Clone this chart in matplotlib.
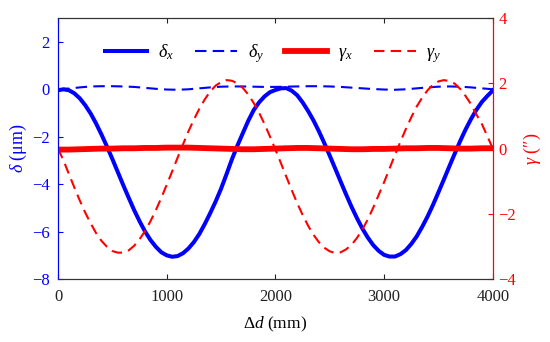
import matplotlib
matplotlib.use("Agg")
import matplotlib.pyplot as plt

plt.rcParams['font.family'] = ['Liberation Serif', 'DejaVu Serif']
plt.rcParams['mathtext.fontset'] = 'custom'
plt.rcParams['mathtext.rm'] = 'Liberation Serif'
plt.rcParams['mathtext.it'] = 'Liberation Serif:italic'
plt.rcParams['font.size'] = 12

# positions along the guide (mm)
d50 = list(range(0, 4001, 50))
d100 = list(range(0, 4001, 100))

# delta_x (um), blue solid, read every 50 mm
delta_x = [-0.04, 0.00, -0.04, -0.17, -0.38, -0.67, -1.02, -1.44, -1.91, -2.41,
           -2.94, -3.49, -4.04, -4.57, -5.09, -5.56, -5.99, -6.35, -6.64, -6.87,
           -7.00, -7.06, -7.03, -6.91, -6.71, -6.44, -6.10, -5.68, -5.22, -4.73,
           -4.19, -3.58, -2.95, -2.38, -1.85, -1.33, -0.88, -0.55, -0.30, -0.12,
           -0.03, 0.04, 0.05, -0.06, -0.25, -0.55, -0.91, -1.31, -1.77, -2.27,
           -2.80, -3.34, -3.89, -4.43, -4.95, -5.43, -5.87, -6.25, -6.57, -6.81,
           -6.98, -7.05, -7.05, -6.95, -6.78, -6.52, -6.20, -5.80, -5.36, -4.87,
           -4.34, -3.80, -3.25, -2.71, -2.18, -1.69, -1.25, -0.86, -0.53, -0.28,
           -0.05]

# gamma_y (arcsec), red dashed, read every 50 mm
gamma_y = [0.00, -0.36, -0.78, -1.19, -1.59, -1.96, -2.29, -2.59, -2.83, -3.01,
           -3.14, -3.19, -3.19, -3.12, -2.98, -2.78, -2.53, -2.23, -1.89, -1.51,
           -1.11, -0.70, -0.28, 0.13, 0.53, 0.89, 1.22, 1.51, 1.75, 1.93,
           2.04, 2.10, 2.08, 2.00, 1.86, 1.66, 1.40, 1.10, 0.75, 0.37,
           -0.03, -0.44, -0.86, -1.27, -1.67, -2.03, -2.36, -2.64, -2.87, -3.04,
           -3.15, -3.20, -3.18, -3.09, -2.95, -2.74, -2.48, -2.17, -1.81, -1.42,
           -1.03, -0.61, -0.19, 0.21, 0.60, 0.96, 1.29, 1.56, 1.79, 1.96,
           2.06, 2.10, 2.07, 1.99, 1.83, 1.61, 1.36, 1.04, 0.75, 0.38,
           0.00]

# delta_y (um), blue dashed, read every 100 mm
delta_y = [0.00, 0.03, 0.08, 0.12, 0.13, 0.13, 0.12, 0.10, 0.06, 0.02,
           -0.01, -0.02, 0.00, 0.04, 0.08, 0.11, 0.12, 0.12, 0.11, 0.10,
           0.10, 0.11, 0.12, 0.13, 0.13, 0.12, 0.10, 0.07, 0.04, 0.01,
           -0.01, -0.02, 0.00, 0.04, 0.08, 0.11, 0.12, 0.11, 0.08, 0.04,
           0.00]

# gamma_x (arcsec), red solid, read every 100 mm
gamma_x = [-0.03, -0.03, -0.02, -0.01, 0.00, 0.00, 0.01, 0.01, 0.02, 0.02,
           0.03, 0.03, 0.03, 0.02, 0.01, 0.00, -0.01, -0.02, -0.02, -0.01,
           0.00, 0.01, 0.02, 0.02, 0.01, 0.00, -0.01, -0.02, -0.02, -0.01,
           -0.01, 0.00, 0.01, 0.01, 0.02, 0.02, 0.01, 0.00, 0.00, 0.01,
           0.01]

blue = '#0000ff'
red = '#ff0000'

fig = plt.figure(figsize=(5.5, 3.42), dpi=100)
ax1 = fig.add_axes([0.1055, 0.184, 0.7905, 0.763])
ax2 = ax1.twinx()

l1, = ax1.plot(d50, delta_x, color=blue, lw=2.9, label=r'$\delta_x$')
l2, = ax1.plot(d100, delta_y, color=blue, lw=1.5, dashes=(5.5, 3), label=r'$\delta_y$')
l3, = ax2.plot(d100, gamma_x, color=red, lw=4.2, label=r'$\gamma_x$')
l4, = ax2.plot(d50, gamma_y, color=red, lw=1.5, dashes=(5, 3), label=r'$\gamma_y$')

ax1.set_xlim(0, 4000)
ax1.set_ylim(-8, 3)
ax2.set_ylim(-4, 4)
ax1.set_xticks([0, 1000, 2000, 3000, 4000])
ax1.set_yticks([-8, -6, -4, -2, 0, 2])
ax2.set_yticks([-4, -2, 0, 2, 4])

ax1.tick_params(axis='x', direction='in', top=True, colors='#222222', labelsize=12, pad=7)
ax1.tick_params(axis='y', direction='in', colors=blue, labelsize=12, pad=6)
ax2.tick_params(axis='y', direction='in', colors=red, labelsize=12, pad=4)

for ax in (ax1, ax2):
    ax.spines['left'].set_color(blue)
    ax.spines['right'].set_color(red)
    ax.spines['top'].set_color('#333333')
    ax.spines['bottom'].set_color('#333333')

ax1.set_xlabel(r'$\mathit{Δd}$ (mm)', fontsize=12.5, labelpad=7)
ax1.set_ylabel(r'$\delta$ (μm)', color=blue, fontsize=13, labelpad=2)
ax2.set_ylabel(r'$\gamma$ (″)', color=red, fontsize=13, labelpad=4)

ax2.legend(handles=[l1, l2, l3, l4], loc='upper center', bbox_to_anchor=(0.495, 0.97),
           ncol=4, frameon=False, fontsize=13, handlelength=2.3, columnspacing=1.2,
           handletextpad=0.6)

fig.savefig('out.png', dpi=100)
